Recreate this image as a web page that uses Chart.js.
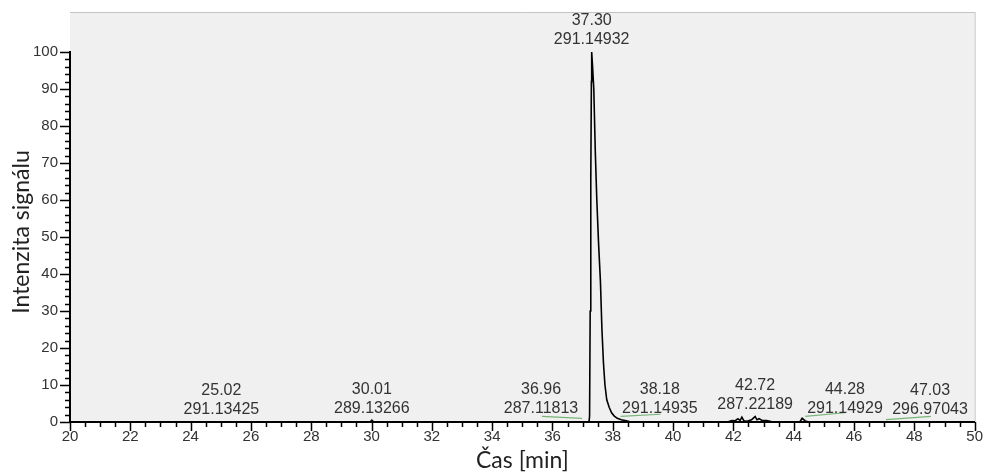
<!DOCTYPE html>
<html>
<head>
<meta charset="utf-8">
<script src="https://cdn.jsdelivr.net/npm/chart.js@4/dist/chart.umd.min.js"></script>
<style>
  html, body { margin: 0; padding: 0; background: #fff; }
</style>
</head>
<body>
<canvas id="chrom" width="989" height="474"></canvas>
<script>
// chromatogram trace: retention time [min] vs. relative intensity [%]
const times = [20.00, 29.95, 30.01, 30.07, 37.12, 37.21, 37.23, 37.25, 37.27, 37.29,
    37.30, 37.33, 37.37, 37.42, 37.47, 37.53, 37.59, 37.64, 37.69, 37.74,
    37.80, 37.88, 37.96, 38.05, 38.15, 38.28, 38.45, 38.60, 41.80, 41.95,
    42.05, 42.15, 42.22, 42.28, 42.35, 42.45, 42.60, 42.68, 42.72, 42.78,
    42.85, 42.95, 43.10, 43.25, 43.40, 44.20, 44.28, 44.38, 44.50, 50.00]
const intensity = [0, 0, 0.5, 0, 0, 0, 1.5, 30, 65, 92,
    100, 96, 90, 73, 60, 48, 38, 25, 16, 10,
    6, 4, 2.5, 1.6, 1.0, 0.6, 0.3, 0, 0, 0.4,
    0.3, 0.9, 0.4, 1.3, 0.3, 0.2, 0.6, 1.2, 1.5, 0.6,
    0.9, 0.4, 0.4, 0.1, 0, 0, 1.0, 0.3, 0, 0]

// annotated peaks: time, m/z, apex height the label sits on, where the label is centred
const peakTimes = [25.02, 30.01, 36.96, 37.30, 38.18, 42.72, 44.28, 47.03]
const peakMasses = ['291.13425', '289.13266', '287.11813', '291.14932', '291.14935', '287.22189', '291.14929', '296.97043']
const peakHeights = [0, 0.3, 0.5, 100, 0.5, 1.4, 0.5, 0]
const labelTimes = [25.02, 30.01, 35.62, 37.30, 39.56, 42.72, 45.70, 48.52]

// green leader traces under the shifted labels
const leadStart = [35.65, 38.26, 44.38, 47.06]
const leadEnd = [36.98, 39.58, 45.70, 48.55]
const leadStartY = [1.5, 1.5, 1.5, 0.65]
const leadEndY = [1.0, 2.1, 2.5, 1.5]

const xTicks = [20, 22, 24, 26, 28, 30, 32, 34, 36, 38, 40, 42, 44, 46, 48, 50]
const yTicks = [0, 10, 20, 30, 40, 50, 60, 70, 80, 90, 100]

const tickFont = { family: 'Liberation Sans', size: 15 }
const titleFont = { family: 'Lato', size: 23 }
const textColor = '#333'

let datasets = [{
    data: times.map((t, i) => ({ x: t, y: intensity[i] })),
    borderColor: '#000',
    borderWidth: 1.6,
    pointRadius: 0,
    tension: 0
}]
leadStart.forEach((t, i) => {
    datasets.push({
        data: [{ x: t, y: leadStartY[i] }, { x: leadEnd[i], y: leadEndY[i] }],
        borderColor: '#78b478',
        borderWidth: 1.2,
        pointRadius: 0
    })
})

/**
 * Plot background, axis ticks (major + minor) and the peak labels.
 */
const chromDecor = {
    id: 'chromDecor',
    beforeDraw(chart) {
        const { ctx, chartArea } = chart
        ctx.save()
        ctx.fillStyle = '#f0f0f0'
        ctx.fillRect(chartArea.left, 12, chartArea.right - chartArea.left, chartArea.bottom - 12)
        ctx.strokeStyle = '#c4c4c4'
        ctx.lineWidth = 1
        ctx.beginPath()
        ctx.moveTo(chartArea.left, 12.5)
        ctx.lineTo(chartArea.right + 0.5, 12.5)
        ctx.lineTo(chartArea.right + 0.5, chartArea.bottom)
        ctx.stroke()
        ctx.restore()
    },
    afterDatasetsDraw(chart) {
        const { ctx, chartArea } = chart
        const xs = chart.scales.x, ys = chart.scales.y
        ctx.save()
        ctx.strokeStyle = '#000'

        // y axis line and ticks
        ctx.lineWidth = 2
        ctx.beginPath()
        ctx.moveTo(chartArea.left, ys.getPixelForValue(0) + 1)
        ctx.lineTo(chartArea.left, ys.getPixelForValue(100) - 1)
        ctx.stroke()
        ctx.lineWidth = 1.5
        ctx.beginPath()
        for (let v = 0; v <= 100; v += 2) {
            const py = Math.round(ys.getPixelForValue(v)) + 0.5
            const len = v % 10 === 0 ? 10 : 5
            ctx.moveTo(chartArea.left - len, py)
            ctx.lineTo(chartArea.left, py)
        }
        // x ticks
        for (let v = 20; v <= 50; v += 0.5) {
            const px = Math.round(xs.getPixelForValue(v)) + 0.5
            const len = v % 2 === 0 ? 9 : 5
            ctx.moveTo(px, chartArea.bottom)
            ctx.lineTo(px, chartArea.bottom + len)
        }
        ctx.stroke()

        // peak labels
        ctx.fillStyle = textColor
        ctx.font = '16px "Liberation Sans"'
        ctx.textAlign = 'center'
        ctx.textBaseline = 'middle'
        peakTimes.forEach((t, i) => {
            const px = xs.getPixelForValue(labelTimes[i])
            const py = ys.getPixelForValue(peakHeights[i]) - 12
            ctx.fillText(peakMasses[i], px, py)
            ctx.fillText(t.toFixed(2), px, py - 19)
        })
        ctx.restore()
    }
}

new Chart(document.querySelector('#chrom'), {
    type: 'line',
    data: { datasets: datasets },
    plugins: [chromDecor],
    options: {
        responsive: false,
        animation: false,
        devicePixelRatio: 1,
        layout: { padding: { top: 42, right: 12, left: 0, bottom: 0 } },
        plugins: {
            legend: { display: false },
            tooltip: { enabled: false }
        },
        scales: {
            x: {
                type: 'linear',
                min: 20,
                max: 50,
                afterFit(scale) { scale.height = 52 },
                afterBuildTicks(scale) { scale.ticks = xTicks.map(v => ({ value: v })) },
                ticks: { font: tickFont, color: textColor, padding: 6, maxRotation: 0, autoSkip: false },
                grid: { display: false, drawTicks: false },
                border: { display: true, color: '#000', width: 2 },
                title: {
                    display: true,
                    text: 'Čas [min]',
                    font: titleFont,
                    color: '#222',
                    padding: { top: 0, bottom: 0 }
                }
            },
            y: {
                min: 0,
                max: 102.7,
                afterFit(scale) { scale.width = 70 },
                afterBuildTicks(scale) { scale.ticks = yTicks.map(v => ({ value: v })) },
                ticks: { font: tickFont, color: textColor, padding: 12 },
                grid: { display: false, drawTicks: false },
                border: { display: false },
                title: {
                    display: true,
                    text: 'Intenzita signálu',
                    font: titleFont,
                    color: '#222',
                    padding: { top: 8, bottom: 0 }
                }
            }
        }
    }
})
</script>
</body>
</html>
